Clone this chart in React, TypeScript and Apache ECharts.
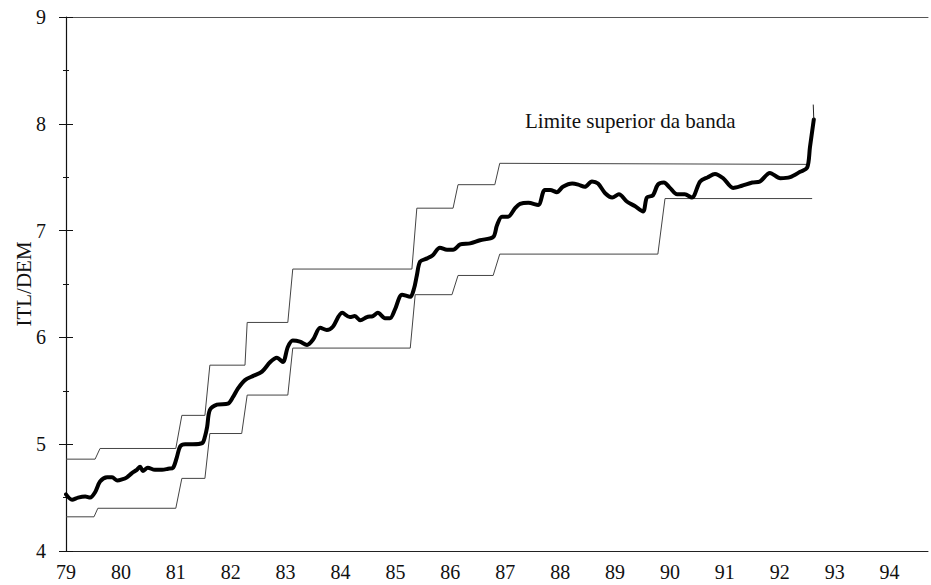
import React, { useEffect, useRef } from "react";
import * as echarts from "echarts";

// Years (decimal) and ITL/DEM rate values
const rateYears = [79.00,79.11,79.22,79.35,79.44,79.53,79.62,79.75,79.84,79.93,80.02,80.11,80.20,80.29,80.35,80.40,80.49,80.62,80.75,80.86,80.95,81.02,81.08,81.17,81.31,81.48,81.53,81.57,81.62,81.75,81.95,82.04,82.13,82.26,82.41,82.57,82.72,82.84,82.95,83.04,83.13,83.26,83.39,83.50,83.63,83.75,83.86,84.03,84.17,84.26,84.36,84.48,84.59,84.68,84.81,84.90,84.99,85.12,85.27,85.34,85.39,85.45,85.58,85.68,85.81,85.94,86.05,86.18,86.36,86.54,86.78,86.85,86.94,87.05,87.18,87.27,87.42,87.60,87.72,87.82,87.94,88.05,88.22,88.33,88.45,88.58,88.69,88.82,88.95,89.07,89.22,89.36,89.51,89.58,89.69,89.78,89.89,90.00,90.13,90.27,90.40,90.55,90.69,90.82,90.97,91.15,91.31,91.50,91.64,91.82,92.01,92.19,92.37,92.50,92.55,92.62];
const rateValues = [4.53,4.48,4.50,4.51,4.50,4.55,4.65,4.69,4.69,4.66,4.67,4.69,4.73,4.76,4.79,4.75,4.78,4.76,4.76,4.77,4.78,4.88,4.98,5.00,5.00,5.01,5.07,5.16,5.32,5.37,5.38,5.44,5.52,5.60,5.64,5.68,5.77,5.81,5.77,5.91,5.97,5.96,5.93,5.98,6.09,6.07,6.10,6.23,6.19,6.20,6.16,6.19,6.20,6.23,6.18,6.18,6.26,6.40,6.38,6.46,6.58,6.71,6.74,6.77,6.84,6.82,6.82,6.87,6.88,6.91,6.94,7.05,7.13,7.13,7.21,7.25,7.26,7.24,7.38,7.38,7.36,7.41,7.44,7.43,7.41,7.46,7.44,7.35,7.31,7.34,7.27,7.23,7.18,7.31,7.33,7.43,7.45,7.40,7.34,7.34,7.31,7.46,7.50,7.53,7.49,7.40,7.42,7.45,7.46,7.54,7.49,7.50,7.55,7.59,7.78,8.04];

// thin final tail above the last thick point
const tailYears = [92.62, 92.61];
const tailValues = [8.04, 8.18];

const upperYears = [79.00,79.53,79.62,81.00,81.11,81.53,81.62,82.26,82.30,83.04,83.13,85.30,85.39,86.05,86.14,86.81,86.90,92.50];
const upperValues = [4.86,4.86,4.96,4.96,5.27,5.27,5.74,5.74,6.14,6.14,6.64,6.64,7.21,7.21,7.43,7.43,7.63,7.62];

const lowerYears = [79.00,79.51,79.58,81.00,81.11,81.53,81.62,82.20,82.30,83.04,83.13,85.27,85.36,86.03,86.14,86.78,86.90,89.78,89.91,92.59];
const lowerValues = [4.32,4.32,4.40,4.40,4.68,4.68,5.10,5.10,5.46,5.46,5.90,5.90,6.40,6.40,6.58,6.58,6.78,6.78,7.30,7.30];

const xMin = 79;
const xMax = 94.7;
const yMin = 4;
const yMax = 9;
const yAxisName = "ITL/DEM";
const annotation = "Limite superior da banda";

const FONT = "'Liberation Serif', 'Times New Roman', serif";

const zip = (xs: number[], ys: number[]) => xs.map((x, i) => [x, ys[i]]);

export default function App() {
  const ref = useRef<HTMLDivElement>(null);
  useEffect(() => {
    if (!ref.current) return;
    const chart = echarts.init(ref.current, undefined, { renderer: "svg" });
    chart.setOption({
      animation: false,
      backgroundColor: "#ffffff",
      textStyle: { fontFamily: FONT },
      grid: { left: 66, right: 3, top: 17, bottom: 34, containLabel: false, outerBoundsMode: "none" },
      xAxis: [
        {
          type: "value",
          min: xMin,
          max: xMax,
          interval: 1,
          position: "bottom",
          axisLine: { show: true, lineStyle: { color: "#222", width: 1 } },
          axisTick: { show: false },
          splitLine: { show: false },
          axisLabel: {
            showMaxLabel: false,
            margin: 11,
            fontSize: 20,
            color: "#111",
            fontFamily: FONT,
            formatter: (v: number) => (Number.isInteger(v) ? String(v) : ""),
          },
        },
        {
          type: "value",
          min: xMin,
          max: xMax,
          position: "top",
          axisLine: { show: true, onZero: false, lineStyle: { color: "#555", width: 1 } },
          axisTick: { show: false },
          axisLabel: { show: false },
          splitLine: { show: false },
        },
      ],
      yAxis: [
        {
          type: "value",
          min: yMin,
          max: yMax,
          interval: 1,
          position: "left",
          name: yAxisName,
          nameLocation: "middle",
          nameGap: 32,
          nameMoveOverlap: false,
          nameTextStyle: { fontSize: 21, color: "#111", fontFamily: FONT },
          axisLine: { show: true, onZero: false, lineStyle: { color: "#111", width: 1.2 } },
          axisTick: { show: true, inside: false, length: 7, lineStyle: { color: "#111" } },
          minorTick: { show: true, splitNumber: 2, length: 3, lineStyle: { color: "#111" } },
          splitLine: { show: false },
          axisLabel: { margin: 20, fontSize: 20, color: "#111", fontFamily: FONT },
        },
        {
          type: "value",
          min: yMin,
          max: yMax,
          interval: 1,
          position: "left",
          offset: 0,
          axisLine: { show: false },
          axisTick: { show: true, inside: true, length: 7, lineStyle: { color: "#111" } },
          minorTick: { show: true, splitNumber: 2, length: 3, lineStyle: { color: "#111" } },
          splitLine: { show: false },
          axisLabel: { show: false },
        },
      ],
      graphic: [
        {
          type: "text",
          left: 525,
          top: 110,
          style: { text: annotation, fontSize: 21, fill: "#111", fontFamily: FONT },
        },
      ],
      series: [
        {
          type: "line",
          name: "upper",
          data: zip(upperYears, upperValues),
          showSymbol: false,
          symbol: "none",
          lineStyle: { color: "#444", width: 1 },
        },
        {
          type: "line",
          name: "lower",
          data: zip(lowerYears, lowerValues),
          showSymbol: false,
          symbol: "none",
          lineStyle: { color: "#444", width: 1 },
        },
        {
          type: "line",
          name: "ITL/DEM",
          data: zip(rateYears, rateValues),
          showSymbol: false,
          symbol: "none",
          smooth: 0.3,
          lineStyle: { color: "#000", width: 4, join: "round", cap: "round" },
        },
        {
          type: "line",
          name: "tail",
          data: zip(tailYears, tailValues),
          showSymbol: false,
          symbol: "none",
          lineStyle: { color: "#222", width: 1 },
        },
      ],
    });
    return () => chart.dispose();
  }, []);
  return <div ref={ref} style={{ width: 931, height: 585, position: "absolute", left: 0, top: 0 }} />;
}
